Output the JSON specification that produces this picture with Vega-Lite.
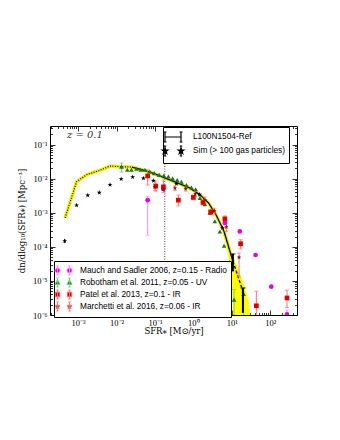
{
  "$schema": "https://vega.github.io/schema/vega-lite/v6.json",
  "width": 247,
  "height": 189,
  "autosize": "none",
  "padding": {"left": 50, "top": 126, "right": 43, "bottom": 125},
  "title": {"text": "z = 0.1", "anchor": "start", "frame": "group", "offset": -14, "dx": 17, "font": "DejaVu Serif", "fontSize": 10, "fontStyle": "italic", "fontWeight": "normal", "color": "#333"},
  "datasets": {
    "ref": [
      {"sfr": 0.000457, "n": 0.000708, "part": "low"},
      {"sfr": 0.000912, "n": 0.00813, "part": "low"},
      {"sfr": 0.0017, "n": 0.0132, "part": "low"},
      {"sfr": 0.00339, "n": 0.017, "part": "low"},
      {"sfr": 0.00676, "n": 0.0234, "part": "low"},
      {"sfr": 0.0138, "n": 0.0224, "part": "low"},
      {"sfr": 0.0251, "n": 0.0219, "part": "low"},
      {"sfr": 0.0251, "n": 0.0219, "part": "high"},
      {"sfr": 0.0501, "n": 0.0178, "part": "high"},
      {"sfr": 0.1, "n": 0.0138, "part": "high"},
      {"sfr": 0.2, "n": 0.01, "part": "high"},
      {"sfr": 0.398, "n": 0.00741, "part": "high"},
      {"sfr": 0.794, "n": 0.00537, "part": "high"},
      {"sfr": 1.48, "n": 0.00339, "part": "high"},
      {"sfr": 2.51, "n": 0.00191, "part": "high"},
      {"sfr": 3.98, "n": 0.000832, "part": "high"},
      {"sfr": 6.31, "n": 0.000282, "part": "high"},
      {"sfr": 10.7, "n": 0.000038, "part": "high"},
      {"sfr": 10.7, "n": 0.000038, "part": "tail"},
      {"sfr": 19.5, "n": 0.000005, "part": "tail"}
    ],
    "band": [
      {"n": 0.000316, "lo": 5.62, "hi": 6.17},
      {"n": 0.0001585, "lo": 6.61, "hi": 7.94},
      {"n": 0.0000794, "lo": 7.59, "hi": 9.55},
      {"n": 0.0000398, "lo": 8.51, "hi": 11.8},
      {"n": 0.00001585, "lo": 9.33, "hi": 16.6},
      {"n": 0.00000631, "lo": 10.0, "hi": 22.4},
      {"n": 0.00000251, "lo": 10.5, "hi": 27.5},
      {"n": 0.000000794, "lo": 10.7, "hi": 31.0}
    ],
    "refpts": [
      {"sfr": 10.7, "n": 0.000038, "lo": 0.000019, "hi": 0.000062},
      {"sfr": 19.5, "n": 0.000005, "lo": 0.00000115, "hi": 0.0000062}
    ],
    "sim": [
      {"sfr": 0.000447, "n": 0.000148, "lo": 0.000129, "hi": 0.00017},
      {"sfr": 0.000912, "n": 0.00166},
      {"sfr": 0.00178, "n": 0.00324},
      {"sfr": 0.00355, "n": 0.00389},
      {"sfr": 0.00676, "n": 0.00661},
      {"sfr": 0.0132, "n": 0.00977},
      {"sfr": 0.0263, "n": 0.0112},
      {"sfr": 0.0501, "n": 0.0102},
      {"sfr": 0.0912, "n": 0.00871},
      {"sfr": 0.363, "n": 0.00708},
      {"sfr": 1.45, "n": 0.0034},
      {"sfr": 5.75, "n": 0.000355}
    ],
    "obs": [
      {"obs": "Mauch and Sadler 2006, z=0.15 - Radio", "sfr": 0.0646, "n": 0.00234, "lo": 0.000219, "hi": 0.00302},
      {"obs": "Mauch and Sadler 2006, z=0.15 - Radio", "sfr": 0.166, "n": 0.00501, "lo": 0.00447, "hi": 0.00562},
      {"obs": "Mauch and Sadler 2006, z=0.15 - Radio", "sfr": 6.61, "n": 0.000501},
      {"obs": "Mauch and Sadler 2006, z=0.15 - Radio", "sfr": 16.2, "n": 0.000282},
      {"obs": "Mauch and Sadler 2006, z=0.15 - Radio", "sfr": 41.7, "n": 0.0000575},
      {"obs": "Mauch and Sadler 2006, z=0.15 - Radio", "sfr": 107, "n": 0.00000676},
      {"obs": "Mauch and Sadler 2006, z=0.15 - Radio", "sfr": 275, "n": 0.00000105, "lo": 0.0000005, "hi": 0.0000014},
      {"obs": "Robotham et al. 2011, z=0.05 - UV", "sfr": 0.0135, "n": 0.0224, "lo": 0.0155, "hi": 0.0288},
      {"obs": "Robotham et al. 2011, z=0.05 - UV", "sfr": 0.0191, "n": 0.0182},
      {"obs": "Robotham et al. 2011, z=0.05 - UV", "sfr": 0.0245, "n": 0.0182},
      {"obs": "Robotham et al. 2011, z=0.05 - UV", "sfr": 0.0331, "n": 0.0195},
      {"obs": "Robotham et al. 2011, z=0.05 - UV", "sfr": 0.0427, "n": 0.0182},
      {"obs": "Robotham et al. 2011, z=0.05 - UV", "sfr": 0.055, "n": 0.0182},
      {"obs": "Robotham et al. 2011, z=0.05 - UV", "sfr": 0.0741, "n": 0.0162},
      {"obs": "Robotham et al. 2011, z=0.05 - UV", "sfr": 0.0955, "n": 0.0145},
      {"obs": "Robotham et al. 2011, z=0.05 - UV", "sfr": 0.129, "n": 0.0129},
      {"obs": "Robotham et al. 2011, z=0.05 - UV", "sfr": 0.17, "n": 0.0123},
      {"obs": "Robotham et al. 2011, z=0.05 - UV", "sfr": 0.224, "n": 0.0115},
      {"obs": "Robotham et al. 2011, z=0.05 - UV", "sfr": 0.288, "n": 0.0102},
      {"obs": "Robotham et al. 2011, z=0.05 - UV", "sfr": 0.38, "n": 0.00912},
      {"obs": "Robotham et al. 2011, z=0.05 - UV", "sfr": 0.49, "n": 0.00813},
      {"obs": "Robotham et al. 2011, z=0.05 - UV", "sfr": 0.661, "n": 0.00646},
      {"obs": "Robotham et al. 2011, z=0.05 - UV", "sfr": 0.891, "n": 0.0055},
      {"obs": "Robotham et al. 2011, z=0.05 - UV", "sfr": 1.148, "n": 0.0049},
      {"obs": "Robotham et al. 2011, z=0.05 - UV", "sfr": 1.479, "n": 0.00269},
      {"obs": "Robotham et al. 2011, z=0.05 - UV", "sfr": 1.995, "n": 0.00178},
      {"obs": "Robotham et al. 2011, z=0.05 - UV", "sfr": 2.69, "n": 0.001},
      {"obs": "Robotham et al. 2011, z=0.05 - UV", "sfr": 3.63, "n": 0.000562},
      {"obs": "Robotham et al. 2011, z=0.05 - UV", "sfr": 4.9, "n": 0.000282},
      {"obs": "Robotham et al. 2011, z=0.05 - UV", "sfr": 6.31, "n": 0.000107},
      {"obs": "Robotham et al. 2011, z=0.05 - UV", "sfr": 8.71, "n": 0.0000355},
      {"obs": "Robotham et al. 2011, z=0.05 - UV", "sfr": 11.48, "n": 0.00000282, "lo": 0.0000005, "hi": 0.0000056},
      {"obs": "Robotham et al. 2011, z=0.05 - UV", "sfr": 20.4, "n": 0.00000417, "lo": 0.0000005, "hi": 0.0000063},
      {"obs": "Patel et al. 2013, z=0.1 - IR", "sfr": 0.0646, "n": 0.012, "lo": 0.00646, "hi": 0.0182},
      {"obs": "Patel et al. 2013, z=0.1 - IR", "sfr": 0.105, "n": 0.00603, "lo": 0.00427, "hi": 0.00851},
      {"obs": "Patel et al. 2013, z=0.1 - IR", "sfr": 0.166, "n": 0.00575, "lo": 0.00457, "hi": 0.00912},
      {"obs": "Patel et al. 2013, z=0.1 - IR", "sfr": 0.407, "n": 0.00234, "lo": 0.00158, "hi": 0.00331},
      {"obs": "Patel et al. 2013, z=0.1 - IR", "sfr": 1.0, "n": 0.00282, "lo": 0.0024, "hi": 0.0033},
      {"obs": "Patel et al. 2013, z=0.1 - IR", "sfr": 1.78, "n": 0.002, "lo": 0.00166, "hi": 0.0024},
      {"obs": "Patel et al. 2013, z=0.1 - IR", "sfr": 2.82, "n": 0.00105, "lo": 0.00087, "hi": 0.00126},
      {"obs": "Patel et al. 2013, z=0.1 - IR", "sfr": 6.61, "n": 0.000661, "lo": 0.00053, "hi": 0.00081},
      {"obs": "Patel et al. 2013, z=0.1 - IR", "sfr": 17.0, "n": 0.000123, "lo": 0.000087, "hi": 0.000162},
      {"obs": "Patel et al. 2013, z=0.1 - IR", "sfr": 43.7, "n": 0.00000186, "lo": 0.00000074, "hi": 0.000005},
      {"obs": "Patel et al. 2013, z=0.1 - IR", "sfr": 275, "n": 0.00000316, "lo": 0.00000166, "hi": 0.0000054},
      {"obs": "Marchetti et al. 2016, z=0.06 - IR", "sfr": 0.1, "n": 0.00562, "lo": 0.00447, "hi": 0.00708},
      {"obs": "Marchetti et al. 2016, z=0.06 - IR", "sfr": 0.166, "n": 0.00479, "lo": 0.0039, "hi": 0.0059},
      {"obs": "Marchetti et al. 2016, z=0.06 - IR", "sfr": 0.331, "n": 0.00525, "lo": 0.0045, "hi": 0.0061},
      {"obs": "Marchetti et al. 2016, z=0.06 - IR", "sfr": 0.631, "n": 0.00501, "lo": 0.0043, "hi": 0.0058},
      {"obs": "Marchetti et al. 2016, z=0.06 - IR", "sfr": 1.122, "n": 0.00355, "lo": 0.003, "hi": 0.0042},
      {"obs": "Marchetti et al. 2016, z=0.06 - IR", "sfr": 1.995, "n": 0.0024, "lo": 0.002, "hi": 0.0029},
      {"obs": "Marchetti et al. 2016, z=0.06 - IR", "sfr": 3.55, "n": 0.00112, "lo": 0.00092, "hi": 0.00135},
      {"obs": "Marchetti et al. 2016, z=0.06 - IR", "sfr": 7.24, "n": 0.00038, "lo": 0.00028, "hi": 0.0005},
      {"obs": "Marchetti et al. 2016, z=0.06 - IR", "sfr": 15.5, "n": 0.000049, "lo": 0.000013, "hi": 0.000065}
    ],
    "vline": [{"sfr": 0.18}]
  },
  "resolve": {
    "scale": {"shape": "independent", "color": "independent", "fill": "independent", "stroke": "independent"},
    "axis": {"x": "independent", "y": "independent"}
  },
  "layer": [
    {
      "data": {"name": "band"},
      "mark": {"type": "area", "orient": "horizontal", "color": "#FFFF00", "clip": true},
      "encoding": {
        "y": {"field": "n", "type": "quantitative", "scale": {"type": "log", "domain": [0.000001, 0.35], "nice": false},
          "axis": {"orient": "left", "values": [0.000001, 0.00001, 0.0001, 0.001, 0.01, 0.1], "tickSize": -5, "labelPadding": 8, "labelFlush": false, "labelOverlap": false,
            "labelExpr": "'10' + (datum.value < 5e-6 ? '⁻⁶' : datum.value < 5e-5 ? '⁻⁵' : datum.value < 5e-4 ? '⁻⁴' : datum.value < 5e-3 ? '⁻³' : datum.value < 5e-2 ? '⁻²' : '⁻¹')",
            "title": "dn/dlog₁₀(SFR⁎) [Mpc⁻³]", "titlePadding": 6}},
        "x": {"field": "lo", "type": "quantitative", "scale": {"type": "log", "domain": [0.000185, 500], "nice": false},
          "axis": {"orient": "bottom", "values": [0.001, 0.01, 0.1, 1, 10, 100], "tickSize": -5, "labelPadding": 8, "labelFlush": false, "labelOverlap": false,
            "labelExpr": "'10' + (datum.value < 5e-3 ? '⁻³' : datum.value < 5e-2 ? '⁻²' : datum.value < 0.5 ? '⁻¹' : datum.value < 5 ? '⁰' : datum.value < 50 ? '¹' : '²')",
            "title": "SFR⁎ [M⊙/yr]", "titlePadding": 0}},
        "x2": {"field": "hi"}
      }
    },
    {
      "data": {"name": "ref"},
      "mark": {"type": "line", "color": "#F2F200", "strokeWidth": 3.5, "clip": true},
      "encoding": {
        "x": {"field": "sfr", "type": "quantitative", "axis": {"orient": "bottom", "values": [0.0002, 0.0003, 0.0004, 0.0005, 0.0006, 0.0007, 0.0008, 0.0009, 0.002, 0.003, 0.004, 0.005, 0.006, 0.007, 0.008, 0.009, 0.02, 0.03, 0.04, 0.05, 0.06, 0.07, 0.08, 0.09, 0.2, 0.3, 0.4, 0.5, 0.6, 0.7, 0.8, 0.9, 2, 3, 4, 5, 6, 7, 8, 9, 20, 30, 40, 50, 60, 70, 80, 90, 200, 300, 400], "tickSize": -2.5, "labels": false, "title": null}},
        "y": {"field": "n", "type": "quantitative", "axis": {"orient": "left", "values": [0.000002, 0.000003, 0.000004, 0.000005, 0.000006, 0.000007, 0.000008, 0.000009, 0.00002, 0.00003, 0.00004, 0.00005, 0.00006, 0.00007, 0.00008, 0.00009, 0.0002, 0.0003, 0.0004, 0.0005, 0.0006, 0.0007, 0.0008, 0.0009, 0.002, 0.003, 0.004, 0.005, 0.006, 0.007, 0.008, 0.009, 0.02, 0.03, 0.04, 0.05, 0.06, 0.07, 0.08, 0.09, 0.2, 0.3], "tickSize": -2.5, "labels": false, "title": null}}
      }
    },
    {
      "data": {"name": "ref"},
      "transform": [{"filter": "datum.part == 'low'"}],
      "mark": {"type": "line", "color": "black", "strokeWidth": 1.2, "strokeDash": [1, 1.5], "clip": true},
      "encoding": {
        "x": {"field": "sfr", "type": "quantitative", "axis": {"orient": "top", "values": [0.001, 0.01, 0.1, 1, 10, 100], "tickSize": -5, "labels": false, "title": null}},
        "y": {"field": "n", "type": "quantitative", "axis": {"orient": "right", "values": [0.000001, 0.00001, 0.0001, 0.001, 0.01, 0.1], "tickSize": -5, "labels": false, "title": null}}
      }
    },
    {
      "data": {"name": "ref"},
      "transform": [{"filter": "datum.part == 'high'"}],
      "mark": {"type": "line", "color": "black", "strokeWidth": 1.3, "clip": true},
      "encoding": {
        "x": {"field": "sfr", "type": "quantitative", "axis": {"orient": "top", "values": [0.0002, 0.0003, 0.0004, 0.0005, 0.0006, 0.0007, 0.0008, 0.0009, 0.002, 0.003, 0.004, 0.005, 0.006, 0.007, 0.008, 0.009, 0.02, 0.03, 0.04, 0.05, 0.06, 0.07, 0.08, 0.09, 0.2, 0.3, 0.4, 0.5, 0.6, 0.7, 0.8, 0.9, 2, 3, 4, 5, 6, 7, 8, 9, 20, 30, 40, 50, 60, 70, 80, 90, 200, 300, 400], "tickSize": -2.5, "labels": false, "title": null}},
        "y": {"field": "n", "type": "quantitative", "axis": {"orient": "right", "values": [0.000002, 0.000003, 0.000004, 0.000005, 0.000006, 0.000007, 0.000008, 0.000009, 0.00002, 0.00003, 0.00004, 0.00005, 0.00006, 0.00007, 0.00008, 0.00009, 0.0002, 0.0003, 0.0004, 0.0005, 0.0006, 0.0007, 0.0008, 0.0009, 0.002, 0.003, 0.004, 0.005, 0.006, 0.007, 0.008, 0.009, 0.02, 0.03, 0.04, 0.05, 0.06, 0.07, 0.08, 0.09, 0.2, 0.3], "tickSize": -2.5, "labels": false, "title": null}}
      }
    },
    {
      "data": {"name": "ref"},
      "transform": [{"filter": "datum.part == 'tail'"}],
      "mark": {"type": "line", "color": "black", "strokeWidth": 1.3, "strokeDash": [3, 2], "clip": true},
      "encoding": {
        "x": {"field": "sfr", "type": "quantitative", "axis": null},
        "y": {"field": "n", "type": "quantitative", "axis": null}
      }
    },
    {
      "data": {"name": "vline"},
      "mark": {"type": "rule", "color": "#444", "strokeWidth": 1, "strokeDash": [1, 1.5]},
      "encoding": {
        "x": {"field": "sfr", "type": "quantitative", "axis": null}
      }
    },
    {
      "data": {"name": "obs"},
      "transform": [{"filter": "isValid(datum.lo)"}],
      "mark": {"type": "rule", "strokeWidth": 1, "clip": true},
      "encoding": {
        "x": {"field": "sfr", "type": "quantitative", "axis": null},
        "y": {"field": "lo", "type": "quantitative", "axis": null},
        "y2": {"field": "hi"},
        "color": {"field": "obs", "type": "nominal", "legend": null,
          "scale": {"domain": ["Mauch and Sadler 2006, z=0.15 - Radio", "Robotham et al. 2011, z=0.05 - UV", "Patel et al. 2013, z=0.1 - IR", "Marchetti et al. 2016, z=0.06 - IR"], "range": ["#FF88FF", "#77CC77", "#FF7070", "#FF7070"]}}
      }
    },
    {
      "data": {"name": "obs"},
      "transform": [{"filter": "isValid(datum.lo)"}],
      "mark": {"type": "tick", "orient": "horizontal", "size": 4, "thickness": 1, "clip": true},
      "encoding": {
        "x": {"field": "sfr", "type": "quantitative", "axis": null},
        "y": {"field": "hi", "type": "quantitative", "axis": null},
        "color": {"field": "obs", "type": "nominal", "legend": null,
          "scale": {"domain": ["Mauch and Sadler 2006, z=0.15 - Radio", "Robotham et al. 2011, z=0.05 - UV", "Patel et al. 2013, z=0.1 - IR", "Marchetti et al. 2016, z=0.06 - IR"], "range": ["#FF88FF", "#77CC77", "#FF7070", "#FF7070"]}}
      }
    },
    {
      "data": {"name": "obs"},
      "transform": [{"filter": "isValid(datum.lo)"}],
      "mark": {"type": "tick", "orient": "horizontal", "size": 4, "thickness": 1, "clip": true},
      "encoding": {
        "x": {"field": "sfr", "type": "quantitative", "axis": null},
        "y": {"field": "lo", "type": "quantitative", "axis": null},
        "color": {"field": "obs", "type": "nominal", "legend": null,
          "scale": {"domain": ["Mauch and Sadler 2006, z=0.15 - Radio", "Robotham et al. 2011, z=0.05 - UV", "Patel et al. 2013, z=0.1 - IR", "Marchetti et al. 2016, z=0.06 - IR"], "range": ["#FF88FF", "#77CC77", "#FF7070", "#FF7070"]}}
      }
    },
    {
      "data": {"name": "obs"},
      "mark": {"type": "point", "filled": true, "opacity": 1, "size": 22, "clip": true},
      "encoding": {
        "x": {"field": "sfr", "type": "quantitative", "axis": null},
        "y": {"field": "n", "type": "quantitative", "axis": null},
        "color": {"field": "obs", "type": "nominal", "legend": null,
          "scale": {"domain": ["Mauch and Sadler 2006, z=0.15 - Radio", "Robotham et al. 2011, z=0.05 - UV", "Patel et al. 2013, z=0.1 - IR", "Marchetti et al. 2016, z=0.06 - IR"], "range": ["#E600E6", "#1A7A1A", "#E00000", "#7A1010"]}},
        "shape": {"field": "obs", "type": "nominal", "legend": null,
          "scale": {"domain": ["Mauch and Sadler 2006, z=0.15 - Radio", "Robotham et al. 2011, z=0.05 - UV", "Patel et al. 2013, z=0.1 - IR", "Marchetti et al. 2016, z=0.06 - IR"],
            "range": ["circle", "triangle-up", "square", "M0,-1L0.235,-0.324L0.951,-0.309L0.38,0.124L0.588,0.809L0,0.4L-0.588,0.809L-0.38,0.124L-0.951,-0.309L-0.235,-0.324Z"]}}
      }
    },
    {
      "data": {"name": "obs"},
      "transform": [{"filter": "false"}],
      "mark": {"type": "point", "filled": true, "opacity": 1, "strokeWidth": 0.9},
      "encoding": {
        "shape": {"field": "obs", "type": "nominal",
          "scale": {"domain": ["Mauch and Sadler 2006, z=0.15 - Radio", "Robotham et al. 2011, z=0.05 - UV", "Patel et al. 2013, z=0.1 - IR", "Marchetti et al. 2016, z=0.06 - IR"],
            "range": [
              "M-1.7,0A0.5,0.5,0,1,0,-0.7,0A0.5,0.5,0,1,0,-1.7,0ZM0.7,0A0.5,0.5,0,1,0,1.7,0A0.5,0.5,0,1,0,0.7,0ZM-1.2,-0.9V0.9M-1.45,-0.9H-0.95M-1.45,0.9H-0.95M1.2,-0.9V0.9M0.95,-0.9H1.45M0.95,0.9H1.45",
              "M-1.2,-0.55L-0.68,0.4L-1.72,0.4ZM1.2,-0.55L1.72,0.4L0.68,0.4ZM-1.2,-0.9V0.9M-1.45,-0.9H-0.95M-1.45,0.9H-0.95M1.2,-0.9V0.9M0.95,-0.9H1.45M0.95,0.9H1.45",
              "M-1.65,-0.45H-0.75V0.45H-1.65ZM0.75,-0.45H1.65V0.45H0.75ZM-1.2,-0.9V0.9M-1.45,-0.9H-0.95M-1.45,0.9H-0.95M1.2,-0.9V0.9M0.95,-0.9H1.45M0.95,0.9H1.45",
              "M-1.2,-0.55L-1.071,-0.178L-0.677,-0.17L-0.991,0.068L-0.877,0.445L-1.2,0.22L-1.523,0.445L-1.409,0.068L-1.723,-0.17L-1.329,-0.178ZM1.2,-0.55L1.329,-0.178L1.723,-0.17L1.409,0.068L1.523,0.445L1.2,0.22L0.877,0.445L0.991,0.068L0.677,-0.17L1.071,-0.178ZM-1.2,-0.9V0.9M-1.45,-0.9H-0.95M-1.45,0.9H-0.95M1.2,-0.9V0.9M0.95,-0.9H1.45M0.95,0.9H1.45"
            ]},
          "legend": {"title": null, "orient": "none", "legendX": 4, "legendY": 135, "symbolSize": 100, "labelOffset": 11, "rowPadding": -2.4, "symbolStrokeWidth": 0.9}},
        "fill": {"field": "obs", "type": "nominal",
          "scale": {"domain": ["Mauch and Sadler 2006, z=0.15 - Radio", "Robotham et al. 2011, z=0.05 - UV", "Patel et al. 2013, z=0.1 - IR", "Marchetti et al. 2016, z=0.06 - IR"], "range": ["#E600E6", "#1A7A1A", "#E00000", "#7A1010"]},
          "legend": {"title": null, "orient": "none", "legendX": 4, "legendY": 135, "symbolSize": 100, "labelOffset": 11, "rowPadding": -2.4, "symbolStrokeWidth": 0.9}},
        "stroke": {"field": "obs", "type": "nominal",
          "scale": {"domain": ["Mauch and Sadler 2006, z=0.15 - Radio", "Robotham et al. 2011, z=0.05 - UV", "Patel et al. 2013, z=0.1 - IR", "Marchetti et al. 2016, z=0.06 - IR"], "range": ["#FF88FF", "#77CC77", "#FF7070", "#FF7070"]},
          "legend": {"title": null, "orient": "none", "legendX": 4, "legendY": 135, "symbolSize": 100, "labelOffset": 11, "rowPadding": -2.4, "symbolStrokeWidth": 0.9}}
      }
    },
    {
      "data": {"name": "sim"},
      "transform": [{"filter": "isValid(datum.lo)"}],
      "mark": {"type": "rule", "color": "black", "strokeWidth": 1, "clip": true},
      "encoding": {
        "x": {"field": "sfr", "type": "quantitative", "axis": null},
        "y": {"field": "lo", "type": "quantitative", "axis": null},
        "y2": {"field": "hi"}
      }
    },
    {
      "data": {"name": "sim"},
      "mark": {"type": "point", "filled": true, "opacity": 1, "color": "black", "size": 26, "clip": true,
        "shape": "M0,-1L0.235,-0.324L0.951,-0.309L0.38,0.124L0.588,0.809L0,0.4L-0.588,0.809L-0.38,0.124L-0.951,-0.309L-0.235,-0.324Z"},
      "encoding": {
        "x": {"field": "sfr", "type": "quantitative", "axis": null},
        "y": {"field": "n", "type": "quantitative", "axis": null}
      }
    },
    {
      "data": {"name": "refpts"},
      "mark": {"type": "rule", "color": "black", "strokeWidth": 2, "clip": true},
      "encoding": {
        "x": {"field": "sfr", "type": "quantitative", "axis": null},
        "y": {"field": "lo", "type": "quantitative", "axis": null},
        "y2": {"field": "hi"}
      }
    },
    {
      "data": {"name": "refpts"},
      "mark": {"type": "tick", "orient": "horizontal", "size": 5, "thickness": 1.2, "color": "black", "clip": true},
      "encoding": {
        "x": {"field": "sfr", "type": "quantitative", "axis": null},
        "y": {"field": "hi", "type": "quantitative", "axis": null}
      }
    },
    {
      "data": {"name": "sim"},
      "transform": [{"filter": "false"}, {"calculate": "'x'", "as": "series"}],
      "mark": {"type": "point", "filled": true, "opacity": 1, "strokeWidth": 1.2},
      "encoding": {
        "shape": {"field": "series", "type": "nominal",
          "scale": {"domain": ["L100N1504-Ref", "Sim (> 100 gas particles)"],
            "range": [
              "M-1.6,0H1.6M-1.6,-1V1M1.6,-1V1M-1.9,-1H-1.3M-1.9,1H-1.3M1.3,-1H1.9M1.3,1H1.9",
              "M-1.6,-0.6L-1.459,-0.194L-1.029,-0.185L-1.372,0.074L-1.247,0.485L-1.6,0.24L-1.953,0.485L-1.828,0.074L-2.171,-0.185L-1.741,-0.194ZM1.6,-0.6L1.741,-0.194L2.171,-0.185L1.828,0.074L1.953,0.485L1.6,0.24L1.247,0.485L1.372,0.074L1.029,-0.185L1.459,-0.194ZM-1.6,-1V1M-1.85,-1H-1.35M-1.85,1H-1.35M1.6,-1V1M1.35,-1H1.85M1.35,1H1.85"
            ]},
          "legend": {"title": null, "orient": "none", "legendX": 113, "legendY": 1, "symbolSize": 100, "labelOffset": 14, "rowPadding": -5, "symbolStrokeWidth": 1.2}},
        "fill": {"field": "series", "type": "nominal",
          "scale": {"domain": ["L100N1504-Ref", "Sim (> 100 gas particles)"], "range": ["black", "black"]},
          "legend": {"title": null, "orient": "none", "legendX": 113, "legendY": 1, "symbolSize": 100, "labelOffset": 14, "rowPadding": -5, "symbolStrokeWidth": 1.2}},
        "stroke": {"field": "series", "type": "nominal",
          "scale": {"domain": ["L100N1504-Ref", "Sim (> 100 gas particles)"], "range": ["black", "black"]},
          "legend": {"title": null, "orient": "none", "legendX": 113, "legendY": 1, "symbolSize": 100, "labelOffset": 14, "rowPadding": -5, "symbolStrokeWidth": 1.2}}
      }
    }
  ],
  "config": {
    "view": {"stroke": "black", "strokeWidth": 1},
    "axis": {"domain": false, "grid": false, "tickColor": "black", "tickWidth": 0.8, "labelColor": "black", "labelFont": "Liberation Serif", "labelFontSize": 8.5,
      "titleFont": "DejaVu Serif", "titleFontSize": 8.5, "titleFontWeight": "normal", "titleColor": "black"},
    "legend": {"labelFont": "Liberation Sans", "labelFontSize": 8.3, "labelColor": "black", "strokeColor": "black", "fillColor": "white", "padding": 4, "cornerRadius": 0, "labelLimit": 300}
  }
}
